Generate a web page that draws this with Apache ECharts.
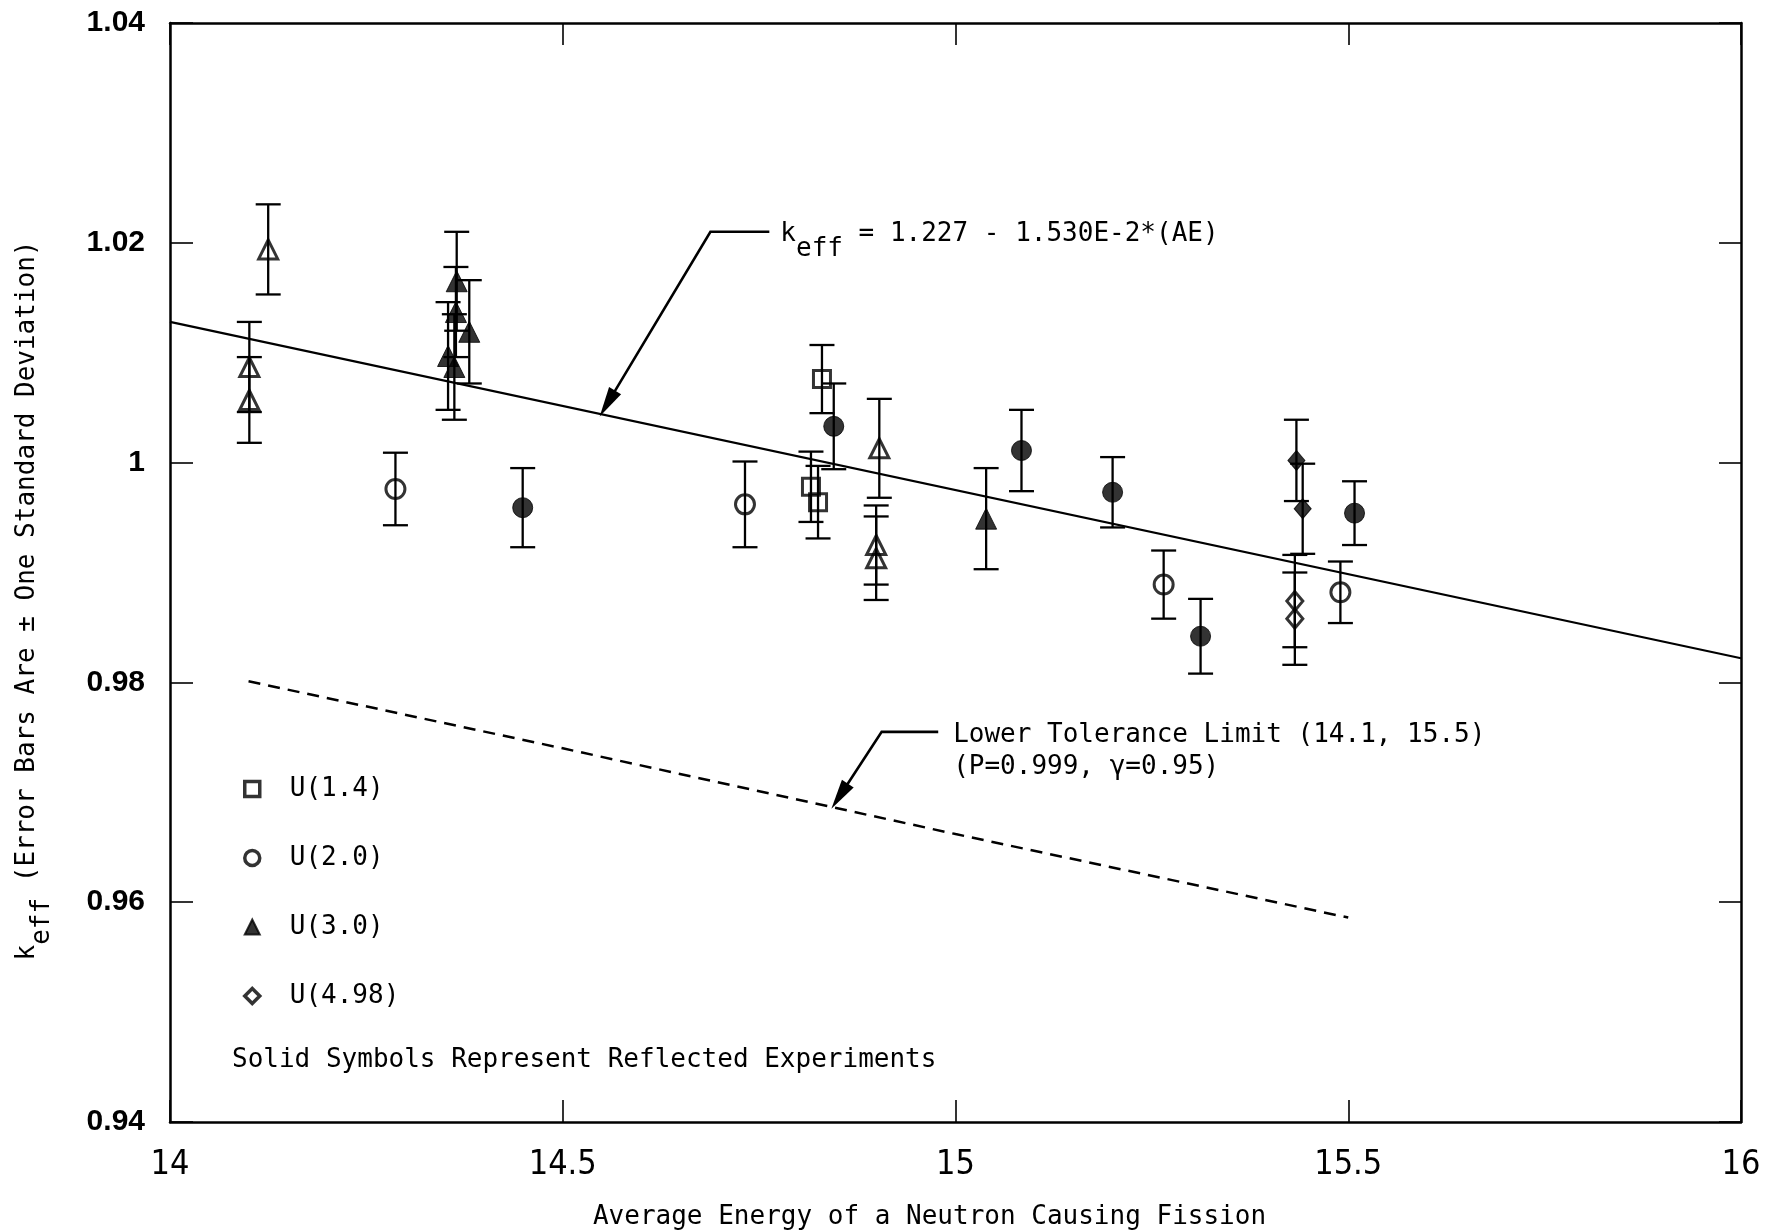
<!DOCTYPE html>
<html><head><meta charset="utf-8">
<script src="https://cdn.jsdelivr.net/npm/echarts@6/dist/echarts.min.js"></script>
<style>html,body{margin:0;padding:0;background:#fff}#c{width:1772px;height:1232px}</style>
</head><body><div id="c"></div>
<script>
// ---------- data ----------
const xTicks = [14, 14.5, 15, 15.5, 16];
const yTicks = [0.94, 0.96, 0.98, 1, 1.02, 1.04];

// fitted trend line keff = 1.227 - 1.530E-2*(AE)
const fitX = [14, 16];
const fitY = [1.0128, 0.9822];
// lower tolerance limit (dashed)
const tolX = [14.1, 14.5, 15.0, 15.5];
const tolY = [0.9801, 0.9740, 0.9662, 0.9586];

// U(1.4) open squares
const sqOpenX = [14.816, 14.825, 14.830];
const sqOpenY = [0.9978, 0.9964, 1.0076];
const sqOpenErr = [0.0032, 0.0033, 0.0031];
// U(2.0) open circles
const ciOpenX = [14.287, 14.732, 15.265, 15.490];
const ciOpenY = [0.9976, 0.9962, 0.9889, 0.9882];
const ciOpenErr = [0.0033, 0.0039, 0.0031, 0.0028];
// U(2.0) solid circles (reflected)
const ciSolidX = [14.449, 14.845, 15.084, 15.200, 15.312, 15.508];
const ciSolidY = [0.9959, 1.0033, 1.0011, 0.9973, 0.9842, 0.9954];
const ciSolidErr = [0.0036, 0.0039, 0.0037, 0.0032, 0.0034, 0.0029];
// U(3.0) open triangles
const trOpenX = [14.125, 14.101, 14.101, 14.903, 14.899, 14.899];
const trOpenY = [1.0194, 1.0087, 1.0057, 1.0013, 0.9925, 0.9913];
const trOpenErr = [0.0041, 0.0041, 0.0039, 0.0045, 0.0036, 0.0038];
// U(3.0) solid triangles (reflected)
const trSolidX = [14.365, 14.364, 14.381, 14.354, 14.362, 15.039];
const trSolidY = [1.0165, 1.0137, 1.0119, 1.0097, 1.0087, 0.9949];
const trSolidErr = [0.0045, 0.0041, 0.0047, 0.0049, 0.0048, 0.0046];
// U(4.98) open diamonds
const diOpenX = [15.432, 15.432];
const diOpenY = [0.9874, 0.9858];
const diOpenErr = [0.0042, 0.0042];
// U(4.98) solid diamonds (reflected)
const diSolidX = [15.434, 15.442];
const diSolidY = [1.0002, 0.9958];
const diSolidErr = [0.0037, 0.0041];

const legendNames = ['U(1.4)', 'U(2.0)', 'U(3.0)', 'U(4.98)'];

// ---------- chart ----------
const MONO = "'DejaVu Sans Mono', 'Liberation Mono', monospace";
const zip = (xs, ys) => xs.map((x, i) => [x, ys[i]]);
const zipE = (xs, ys, es) => xs.map((x, i) => [x, ys[i], es[i]]);

const errData = [].concat(
  zipE(sqOpenX, sqOpenY, sqOpenErr), zipE(ciOpenX, ciOpenY, ciOpenErr),
  zipE(ciSolidX, ciSolidY, ciSolidErr), zipE(trOpenX, trOpenY, trOpenErr),
  zipE(trSolidX, trSolidY, trSolidErr), zipE(diOpenX, diOpenY, diOpenErr),
  zipE(diSolidX, diSolidY, diSolidErr));

const openStyle = { color: 'rgba(255,255,255,0)', borderColor: '#000', borderWidth: 3 };
const solidStyle = { color: '#000', borderColor: '#000', borderWidth: 1 };

function scatter(name, symbol, size, data, style) {
  return { name, type: 'scatter', symbol, symbolSize: size, data, itemStyle: style, z: 4, silent: true };
}

const chart = echarts.init(document.getElementById('c'), null, { renderer: 'canvas' });

const axisLineStyle = { color: '#000', width: 2.5 };
const tickStyle = { color: '#000', width: 1.6 };
const fmt = v => String(+(+v).toFixed(2));

chart.setOption({
  animation: false,
  backgroundColor: '#fff',
  grid: { left: 170, right: 31, top: 23, bottom: 110, containLabel: false, outerBoundsMode: 'none' },
  xAxis: [{
    type: 'value', min: xTicks[0], max: xTicks[xTicks.length - 1], interval: 0.5,
    position: 'bottom',
    axisLine: { show: true, lineStyle: axisLineStyle },
    axisTick: { show: true, inside: true, length: 22, lineStyle: tickStyle },
    splitLine: { show: false },
    axisLabel: {
      formatter: fmt, color: '#000', fontSize: 34, margin: 26,
      fontFamily: "'Liberation Sans Narrow', 'DejaVu Sans Condensed', 'Liberation Sans', sans-serif"
    },
    name: 'Average Energy of a Neutron Causing Fission',
    nameLocation: 'middle', nameGap: 82,
    nameTextStyle: { fontFamily: MONO, fontSize: 26, color: '#000', padding: [0, 52, 0, 0] }
  }, {
    type: 'value', min: xTicks[0], max: xTicks[xTicks.length - 1], interval: 0.5,
    position: 'top',
    axisLine: { show: true, lineStyle: axisLineStyle },
    axisTick: { show: true, inside: true, length: 22, lineStyle: tickStyle },
    splitLine: { show: false }, axisLabel: { show: false }
  }],
  yAxis: [{
    type: 'value', min: yTicks[0], max: yTicks[yTicks.length - 1], interval: 0.02,
    position: 'left',
    axisLine: { show: true, lineStyle: axisLineStyle },
    axisTick: { show: true, inside: true, length: 23, lineStyle: tickStyle },
    splitLine: { show: false },
    axisLabel: {
      formatter: fmt, color: '#000', fontSize: 30, fontWeight: 'bold', margin: 25,
      fontFamily: "'Liberation Sans', Arial, sans-serif"
    },
    name: '{n|k}{sub|eff}{n| (Error Bars Are ± One Standard Deviation)}',
    nameLocation: 'middle', nameGap: 128,
    nameTextStyle: {
      color: '#000', fontFamily: MONO, fontSize: 26, padding: [0, 56, 0, 0],
      rich: {
        n: { fontFamily: MONO, fontSize: 26, color: '#000', verticalAlign: 'top', lineHeight: 28 },
        sub: { fontFamily: MONO, fontSize: 26, color: '#000', verticalAlign: 'top', lineHeight: 28, padding: [15, 0, 0, 0] }
      }
    }
  }, {
    type: 'value', min: yTicks[0], max: yTicks[yTicks.length - 1], interval: 0.02,
    position: 'right',
    axisLine: { show: true, lineStyle: axisLineStyle },
    axisTick: { show: true, inside: true, length: 22, lineStyle: tickStyle },
    splitLine: { show: false }, axisLabel: { show: false }
  }],
  legend: {
    orient: 'vertical', left: 238, top: 771,
    itemWidth: 15, itemHeight: 15, itemGap: 43,
    selectedMode: false,
    textStyle: { fontFamily: MONO, fontSize: 26, color: '#000', lineHeight: 26, padding: [0, 0, 0, 25] },
    data: [
      { name: legendNames[0], icon: 'rect', itemStyle: { color: '#fff', borderColor: '#000', borderWidth: 3.5 } },
      { name: legendNames[1], icon: 'circle', itemStyle: { color: '#fff', borderColor: '#000', borderWidth: 3.5 } },
      { name: legendNames[2], icon: 'triangle', itemStyle: { color: '#000', borderColor: '#000', borderWidth: 2 } },
      { name: legendNames[3], icon: 'diamond', itemStyle: { color: '#fff', borderColor: '#000', borderWidth: 3.5 } }
    ]
  },
  series: [
    {
      name: 'fit', type: 'line', data: zip(fitX, fitY), symbol: 'none', silent: true,
      lineStyle: { color: '#000', width: 2.2 }, z: 2
    },
    {
      name: 'tolerance', type: 'line', data: zip(tolX, tolY), symbol: 'none', silent: true,
      lineStyle: { color: '#000', width: 2.5, type: [12, 8] }, z: 2
    },
    {
      name: 'error bars', type: 'custom', data: errData, encode: { x: 0, y: 1 }, silent: true, z: 3,
      renderItem: function (params, api) {
        const x = api.value(0), y = api.value(1), e = api.value(2);
        const hi = api.coord([x, y + e]), lo = api.coord([x, y - e]);
        const c = 12.5;
        const st = { stroke: '#000', lineWidth: 2.3 };
        return {
          type: 'group', children: [
            { type: 'line', shape: { x1: hi[0], y1: hi[1], x2: lo[0], y2: lo[1] }, style: st },
            { type: 'line', shape: { x1: hi[0] - c, y1: hi[1], x2: hi[0] + c, y2: hi[1] }, style: st },
            { type: 'line', shape: { x1: lo[0] - c, y1: lo[1], x2: lo[0] + c, y2: lo[1] }, style: st }
          ]
        };
      }
    },
    scatter(legendNames[0], 'rect', 17, zip(sqOpenX, sqOpenY), openStyle),
    scatter(legendNames[1], 'circle', 19, zip(ciOpenX, ciOpenY), openStyle),
    scatter('U(2.0) reflected', 'circle', 20, zip(ciSolidX, ciSolidY), solidStyle),
    scatter(legendNames[2], 'triangle', 19, zip(trOpenX, trOpenY), openStyle),
    scatter('U(3.0) reflected', 'triangle', 21, zip(trSolidX, trSolidY), solidStyle),
    scatter(legendNames[3], 'diamond', [16, 19], zip(diOpenX, diOpenY), openStyle),
    scatter('U(4.98) reflected', 'diamond', [17, 20], zip(diSolidX, diSolidY), solidStyle)
  ]
});

// ---------- annotations (positioned through the chart's own scales) ----------
const px = (x, y) => chart.convertToPixel({ gridIndex: 0 }, [x, y]);

function arrow(pts) {
  const p = pts.map(d => px(d[0], d[1]));
  const tip = p[p.length - 1], prev = p[p.length - 2];
  const dx = tip[0] - prev[0], dy = tip[1] - prev[1];
  const L = Math.hypot(dx, dy), ux = dx / L, uy = dy / L;
  const len = 30, w = 7;
  const bx = tip[0] - ux * len, by = tip[1] - uy * len;
  const lineEnd = [tip[0] - ux * (len - 4), tip[1] - uy * (len - 4)];
  return [
    { type: 'polyline', shape: { points: p.slice(0, -1).concat([lineEnd]) }, style: { stroke: '#000', lineWidth: 2.6, fill: null }, z: 10 },
    { type: 'polygon', shape: { points: [tip, [bx - uy * w, by + ux * w], [bx + uy * w, by - ux * w]] }, style: { fill: '#000' }, z: 10 }
  ];
}

const eqAnchor = px(14.777, 1.0210);
const tolAnchor = px(14.997, 0.9755);
const notePos = px(14.080, 0.9456);

const richBase = {
  n: { fontFamily: MONO, fontSize: 26, fill: '#000', verticalAlign: 'top', lineHeight: 28 },
  sub: { fontFamily: MONO, fontSize: 26, fill: '#000', verticalAlign: 'top', lineHeight: 28, padding: [15, 0, 0, 0] }
};

chart.setOption({
  graphic: [].concat(
    arrow([[14.763, 1.0210], [14.688, 1.0210], [14.547, 1.0042]]),
    arrow([[14.978, 0.9755], [14.906, 0.9755], [14.842, 0.9685]]),
    [
      {
        type: 'text', x: eqAnchor[0], y: eqAnchor[1] - 11, z: 10,
        style: { text: '{n|k}{sub|eff}{n| = 1.227 - 1.530E-2*(AE)}', rich: richBase, align: 'left', verticalAlign: 'top' }
      },
      {
        type: 'text', x: tolAnchor[0], y: tolAnchor[1] - 13, z: 10,
        style: {
          text: 'Lower Tolerance Limit (14.1, 15.5)\n(P=0.999, γ=0.95)',
          fontFamily: MONO, fontSize: 26, lineHeight: 32, fill: '#000', align: 'left', verticalAlign: 'top'
        }
      },
      {
        type: 'text', x: 232, y: notePos[1], z: 10,
        style: {
          text: 'Solid Symbols Represent Reflected Experiments',
          fontFamily: MONO, fontSize: 26, fill: '#000', align: 'left', verticalAlign: 'middle'
        }
      }
    ]
  )
});
</script>
</body></html>
